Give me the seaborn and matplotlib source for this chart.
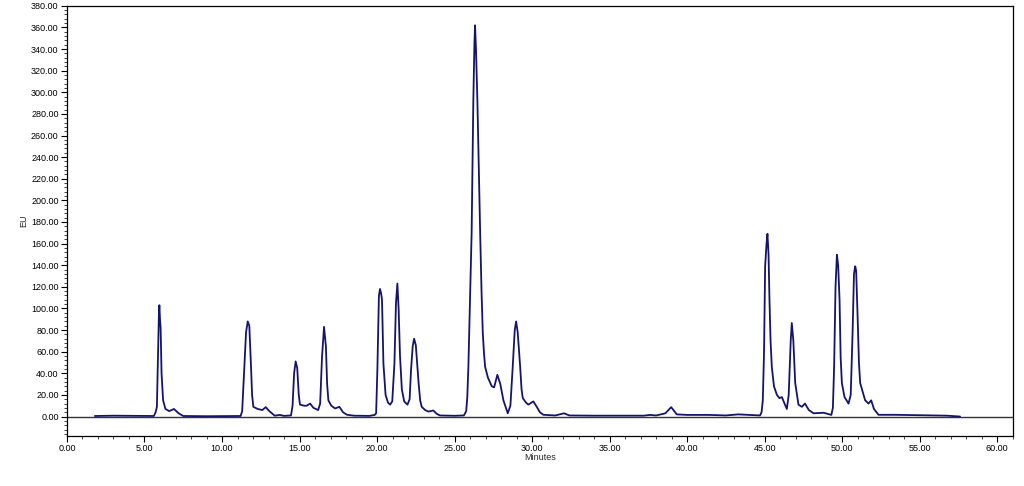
# Chromatogram trace (EU vs Minutes)
import numpy as np
import pandas as pd
import matplotlib
matplotlib.use("Agg")
import matplotlib.pyplot as plt
from matplotlib.ticker import MultipleLocator, FormatStrFormatter
import seaborn as sns

# Points
minutes = [
    1.8, 3.0, 4.5, 5.6, 5.72, 5.8, 5.88, 5.93, 5.96, 6.0, 6.04, 6.1, 6.2, 6.35,
    6.6, 6.9, 7.2, 7.5, 9.0, 11.2, 11.3, 11.42, 11.55, 11.66, 11.76, 11.86,
    11.94, 12.02, 12.3, 12.6, 12.82, 13.05, 13.4, 13.73, 14.0, 14.45, 14.55,
    14.65, 14.75, 14.85, 14.95, 15.03, 15.3, 15.46, 15.68, 15.9, 16.2, 16.33,
    16.45, 16.58, 16.7, 16.78, 16.86, 17.05, 17.29, 17.57, 17.8, 18.05, 18.5,
    19.5, 19.85, 19.94, 20.02, 20.12, 20.19, 20.26, 20.32, 20.41, 20.55, 20.7,
    20.84, 20.98, 21.12, 21.22, 21.31, 21.39, 21.48, 21.6, 21.75, 21.96, 22.1,
    22.19, 22.3, 22.39, 22.5, 22.68, 22.78, 22.88, 23.1, 23.31, 23.63, 23.85,
    24.06, 25.0, 25.6, 25.75, 25.82, 25.89, 26.0, 26.1, 26.21, 26.28, 26.32,
    26.38, 26.47, 26.56, 26.65, 26.74, 26.82, 26.9, 26.97, 27.15, 27.4, 27.55,
    27.76, 27.95, 28.15, 28.43, 28.6, 28.75, 28.88, 28.97, 29.07, 29.23, 29.32,
    29.4, 29.6, 29.76, 30.08, 30.3, 30.5, 30.73, 31.5, 32.06, 32.4, 34.0, 37.2,
    37.6, 38.0, 38.6, 38.97, 39.33, 40.0, 41.44, 42.5, 43.3, 44.0, 44.7, 44.8,
    44.88, 44.96, 45.03, 45.12, 45.18, 45.25, 45.31, 45.38, 45.46, 45.6, 45.79,
    45.95, 46.11, 46.28, 46.43, 46.55, 46.68, 46.75, 46.85, 46.97, 47.18, 47.4,
    47.6, 47.85, 48.15, 48.8, 49.3, 49.4, 49.48, 49.57, 49.66, 49.74, 49.83,
    49.9, 49.98, 50.15, 50.41, 50.55, 50.67, 50.76, 50.84, 50.9, 51.0, 51.08,
    51.16, 51.48, 51.7, 51.87, 52.05, 52.34, 53.4, 55.0, 56.75, 57.6,
]
eu = [
    0.5, 0.8, 0.6, 0.5, 4.0, 9.0, 60.0, 95.0, 103.0, 90.0, 82.0, 40.0, 15.0, 7.0,
    5.0, 7.0, 3.0, 0.5, 0.3, 0.5, 5.0, 40.0, 78.0, 88.0, 84.0, 50.0,
    20.0, 9.0, 7.0, 6.0, 8.7, 5.0, 0.8, 1.5, 0.6, 1.0, 10.0,
    40.0, 51.0, 45.0, 20.0, 11.0, 10.0, 10.0, 12.0, 8.0, 6.0, 12.0,
    55.0, 83.0, 65.0, 30.0, 15.0, 10.0, 7.5, 9.0, 4.0, 1.7, 0.8,
    0.6, 1.5, 3.0, 43.0, 112.0, 118.0, 114.0, 108.0, 49.0, 20.0, 13.0,
    11.0, 14.0, 49.0, 105.0, 123.0, 100.0, 56.0, 25.0, 14.0, 11.0, 16.0,
    43.0, 65.0, 72.0, 66.0, 31.0, 15.0, 9.0, 6.0, 4.6, 5.6, 2.5,
    1.0, 0.7, 1.0, 5.0, 18.0, 46.0, 110.0, 170.0, 293.0, 345.0, 362.0,
    340.0, 293.0, 230.0, 170.0, 115.0, 77.0, 58.0, 46.0, 36.0, 28.0, 27.0,
    38.6, 30.0, 15.0, 3.0, 10.0, 46.0, 80.0, 88.0, 78.0, 46.0, 25.0,
    17.0, 13.0, 11.0, 14.0, 9.0, 4.0, 1.6, 1.0, 3.0, 1.0, 0.8, 0.8,
    1.5, 1.0, 3.0, 8.7, 2.0, 1.5, 1.5, 1.0, 2.0, 1.5, 1.0, 4.0,
    15.0, 60.0, 139.0, 160.0, 169.0, 150.0, 108.0, 70.0, 46.0, 28.0, 20.0,
    17.0, 18.0, 12.0, 7.0, 20.0, 70.0, 86.5, 70.0, 31.0, 11.0, 9.0,
    12.0, 6.0, 3.0, 3.5, 1.5, 8.0, 46.0, 120.0, 149.7, 140.0, 108.0,
    55.0, 31.0, 18.0, 12.0, 20.0, 77.0, 132.0, 139.0, 135.0, 90.0, 50.0,
    31.0, 15.0, 12.0, 15.0, 7.0, 1.6, 1.6, 1.2, 0.8, 0.0,
]

df = pd.DataFrame({"Minutes": minutes, "EU": eu})

# Style
sns.set_style("white")
plt.rcParams["font.family"] = ["Liberation Sans", "DejaVu Sans"]

fig = plt.figure(figsize=(10.24, 4.86), dpi=100)
ax = fig.add_axes([0.0654, 0.1029, 0.9236, 0.8851])

# Zero baseline then the trace
ax.axhline(0, color="#333333", linewidth=1.0, zorder=1)
sns.lineplot(data=df, x="Minutes", y="EU", ax=ax, color="#14146e",
             linewidth=1.3, estimator=None, sort=False, zorder=2)

# Axis limits and ticks
ax.set_xlim(0, 61)
ax.set_ylim(-18, 380)
ax.xaxis.set_major_locator(MultipleLocator(5))
ax.xaxis.set_minor_locator(MultipleLocator(1))
ax.yaxis.set_major_locator(MultipleLocator(20))
ax.yaxis.set_minor_locator(MultipleLocator(4))
ax.xaxis.set_major_formatter(FormatStrFormatter("%.2f"))
ax.yaxis.set_major_formatter(FormatStrFormatter("%.2f"))
ax.tick_params(which="major", direction="out", length=4, width=0.8,
               labelsize=6.5, colors="black", pad=2, left=True, bottom=True)
ax.tick_params(which="minor", direction="out", length=2, width=0.6,
               left=True, bottom=True)

# Labels
ax.set_xlabel("Minutes", fontsize=6.5, labelpad=0)
ax.set_ylabel("EU", fontsize=6.5, labelpad=2)

# Frame
for spine in ax.spines.values():
    spine.set_color("black")
    spine.set_linewidth(0.9)

fig.savefig("out.png", dpi=100)
